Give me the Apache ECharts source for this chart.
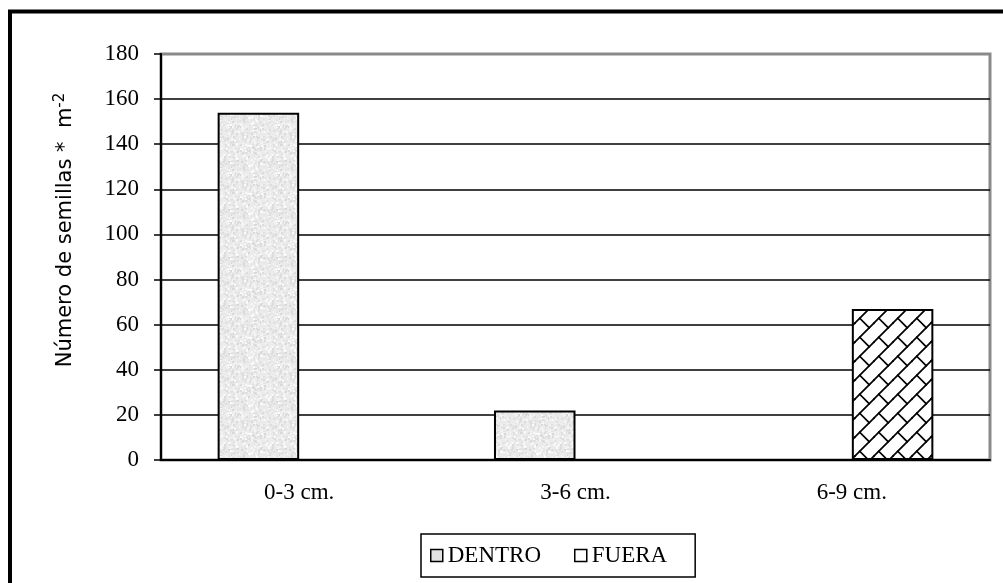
<!DOCTYPE html>
<html>
<head>
<meta charset="utf-8">
<script src="https://cdn.jsdelivr.net/npm/echarts@6/dist/echarts.min.js"></script>
<style>
  html, body { margin: 0; padding: 0; background: #fff; }
  #chart { width: 1003px; height: 583px; }
</style>
</head>
<body>
<div id="chart"></div>
<script>
// Seed counts per soil depth layer
const categories = ['0-3 cm.', '3-6 cm.', '6-9 cm.'];
const seriesNames = ['DENTRO', 'FUERA'];
const dentro = [154, 22, 0];
const fuera = [0, 0, 67];
const yMin = 0;
const yMax = 180;
const yStep = 20;

// Light grey speckled fill for DENTRO bars
function stippleTile() {
  const n = 48;
  const c = document.createElement('canvas');
  c.width = c.height = n;
  const ctx = c.getContext('2d');
  ctx.fillStyle = '#ebebeb';
  ctx.fillRect(0, 0, n, n);
  let s = 12345;
  const rnd = () => (s = (s * 1103515245 + 12345) & 0x7fffffff) / 0x7fffffff;
  for (let i = 0; i < 650; i++) {
    const x = Math.floor(rnd() * n), y = Math.floor(rnd() * n);
    const g = Math.round(0xd8 + rnd() * 0x24);
    ctx.fillStyle = 'rgb(' + g + ',' + g + ',' + g + ')';
    ctx.fillRect(x, y, 2, 2);
  }
  return c;
}

// Diagonal brick hatch for FUERA bars
function brickTile() {
  const T = 19;
  const c = document.createElement('canvas');
  c.width = c.height = T;
  const ctx = c.getContext('2d');
  ctx.fillStyle = '#fff';
  ctx.fillRect(0, 0, T, T);
  ctx.strokeStyle = '#000';
  ctx.lineWidth = 1.7;
  ctx.lineCap = 'square';
  const segs = [[0, T, T, 0], [T / 4, 3 * T / 4, 3 * T / 4, 5 * T / 4]];
  for (const [x1, y1, x2, y2] of segs) {
    for (const dx of [-T, 0, T]) {
      for (const dy of [-T, 0, T]) {
        ctx.beginPath();
        ctx.moveTo(x1 + dx, y1 + dy);
        ctx.lineTo(x2 + dx, y2 + dy);
        ctx.stroke();
      }
    }
  }
  return c;
}

const serif = 'Liberation Serif';
const gridLineColors = [];
for (let v = yMin; v <= yMax; v += yStep) gridLineColors.push(v === yMax ? '#8a8a8a' : '#000');

const chart = echarts.init(document.getElementById('chart'), null, { renderer: 'canvas' });
chart.setOption({
  animation: false,
  backgroundColor: '#fff',
  grid: {
    left: 161, right: 13, top: 54, bottom: 123,
    show: true, borderColor: '#8a8a8a', borderWidth: 3, backgroundColor: 'transparent'
  },
  legend: {
    left: 421, top: 534,
    selectedMode: false,
    data: [
      { name: seriesNames[0], itemStyle: { color: '#e2e2e2' } },
      { name: seriesNames[1], itemStyle: { color: '#fff' } }
    ],
    icon: 'rect', itemWidth: 12, itemHeight: 12, itemGap: 33,
    itemStyle: { borderColor: '#000', borderWidth: 1.5 },
    textStyle: { fontFamily: serif, fontSize: 23, color: '#000' },
    borderColor: '#000', borderWidth: 1.5,
    padding: [10, 28, 10, 9]
  },
  xAxis: {
    type: 'category',
    data: categories,
    axisLine: { lineStyle: { color: '#000', width: 2 } },
    axisTick: { length: 8, lineStyle: { color: '#000', width: 1.5 } },
    axisLabel: { margin: 21, fontFamily: serif, fontSize: 23, color: '#000' },
    splitLine: { show: false }
  },
  yAxis: {
    type: 'value',
    min: yMin, max: yMax, interval: yStep,
    axisLine: { show: true, lineStyle: { color: '#000', width: 2 } },
    axisTick: { show: true, length: 7, lineStyle: { color: '#000', width: 1.5 } },
    axisLabel: { margin: 22, fontFamily: serif, fontSize: 23, color: '#000' },
    splitLine: { show: true, lineStyle: { color: gridLineColors, width: 1.5 } }
  },
  series: [
    {
      name: seriesNames[0], type: 'bar', data: dentro,
      barGap: '0%', barCategoryGap: '41%',
      itemStyle: { color: { image: stippleTile(), repeat: 'repeat' }, borderColor: '#000', borderWidth: 2 }
    },
    {
      name: seriesNames[1], type: 'bar', data: fuera,
      barGap: '0%', barCategoryGap: '41%',
      itemStyle: { color: { image: brickTile(), repeat: 'repeat' }, borderColor: '#000', borderWidth: 2 }
    }
  ],
  graphic: [
    {
      type: 'rect', silent: true,
      shape: { x: 10, y: 11.5, width: 1200, height: 900 },
      style: { fill: 'none', stroke: '#000', lineWidth: 4 }
    },
    {
      type: 'text', silent: true,
      x: 66, y: 230, rotation: Math.PI / 2,
      style: {
        text: '{a|Número de semillas *  m}{b|-2}',
        align: 'center', verticalAlign: 'middle',
        rich: {
          a: { fontFamily: 'DejaVu Sans', fontSize: 21, fill: '#000', lineHeight: 26 },
          b: { fontFamily: 'DejaVu Sans', fontSize: 15, fill: '#000', verticalAlign: 'top', lineHeight: 26 }
        }
      }
    }
  ]
});
</script>
</body>
</html>
